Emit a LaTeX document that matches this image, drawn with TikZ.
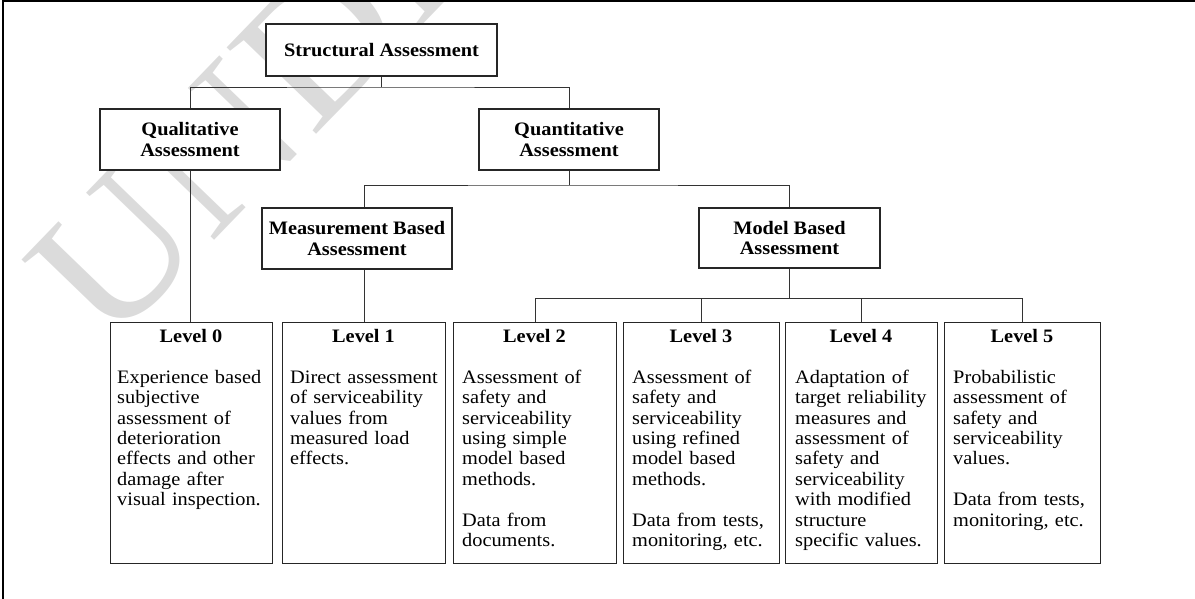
\documentclass[tikz,border=0pt]{standalone}
\usepackage{fontspec}
\setmainfont{Liberation Serif}[FakeStretch=1.07]
\newcommand\myfs{\fontsize{19}{20.4}\selectfont}
\tikzset{
  box/.style={draw=black!85, line width=1.3pt, fill=white, inner sep=0pt, align=center, font=\bfseries\myfs},
  conn/.style={draw=black!80, line width=0.9pt},
  lvl/.style={draw=black!85, line width=1.3pt, fill=white},
  ttl/.style={font=\bfseries\myfs, anchor=base, inner sep=0pt},
  body/.style={font=\myfs, anchor=north west, inner sep=0pt, align=left, text width=150pt},
  wm/.style={text=black!14, inner sep=0pt, anchor=base west, rotate=46, font=\fontsize{190}{190}\selectfont},
}
\begin{document}
\begin{tikzpicture}[x=1pt,y=-1pt]
\useasboundingbox (0,0) rectangle (1195,599);
% watermark
\begin{scope}
\clip (0,0) rectangle (1195,599);
\node[wm] (wmk) at (108,350) {UNDER REVIEW};
\end{scope}
% frame
\draw[line width=2pt] (3,599) -- (3,1) -- (1195,1);
% upper boxes
\node[box, minimum width=231pt, minimum height=52pt] (sa) at (381.5,50) {Structural Assessment};
\node[box, minimum width=180pt, minimum height=61pt] (qual) at (190,139.5) {Qualitative\\Assessment};
\node[box, minimum width=180pt, minimum height=61pt] (quant) at (569,139.5) {Quantitative\\Assessment};
\node[box, minimum width=190pt, minimum height=61pt] (msr) at (357,238.5) {Measurement Based\\Assessment};
\node[box, minimum width=181pt, minimum height=60pt] (mod) at (789.5,238) {Model Based\\Assessment};
% level boxes
\foreach \n/\l/\r in {0/110/272, 1/282/445, 2/453/616, 3/623/779, 4/785/937, 5/944/1100}{
  \node[lvl, inner sep=0pt, minimum width={\r-\l}, minimum height=241pt, anchor=north west] (l\n) at (\l,322) {};
  \node[ttl] (t\n) at ({(\l+\r)/2},342) {Level \n};
}
\node[body] (b0) at (117,369) {\rule{0pt}{14pt}Experience based\\subjective\\assessment of\\deterioration\\effects and other\\damage after\\visual inspection.};
\node[body] (b1) at (290,369) {\rule{0pt}{14pt}Direct assessment\\of serviceability\\values from\\measured load\\effects.};
\node[body] (b2) at (462,369) {\rule{0pt}{14pt}Assessment of\\safety and\\serviceability\\using simple\\model based\\methods.\\[20.4pt]Data from\\documents.};
\node[body] (b3) at (632,369) {\rule{0pt}{14pt}Assessment of\\safety and\\serviceability\\using refined\\model based\\methods.\\[20.4pt]Data from tests,\\monitoring, etc.};
\node[body] (b4) at (795,369) {\rule{0pt}{14pt}Adaptation of\\target reliability\\measures and\\assessment of\\safety and\\serviceability\\with modified\\structure\\specific values.};
\node[body] (b5) at (953,369) {\rule{0pt}{14pt}Probabilistic\\assessment of\\safety and\\serviceability\\values.\\[20.4pt]Data from tests,\\monitoring, etc.};
% connectors
\coordinate (j1) at (381.5,87);
\draw[conn] (sa.south) -- (j1);
\draw[conn] (qual.north) |- (j1) -| (quant.north);
\coordinate (j2) at (569,185);
\draw[conn] (quant.south) -- (j2);
\draw[conn] (l1.north |- msr.north) |- (j2) -| (mod.north);
\draw[conn] (qual.south) -- (qual.south |- l0.north);
\draw[conn] (l1.north |- msr.south) -- (l1.north);
\coordinate (j3) at (789.5,298.5);
\draw[conn] (mod.south) -- (j3);
\draw[conn] (l2.north) |- (j3) -| (l5.north);
\draw[conn] (l3.north) -- (l3.north |- j3);
\draw[conn] (l4.north) -- (l4.north |- j3);
\end{tikzpicture}
\end{document}
